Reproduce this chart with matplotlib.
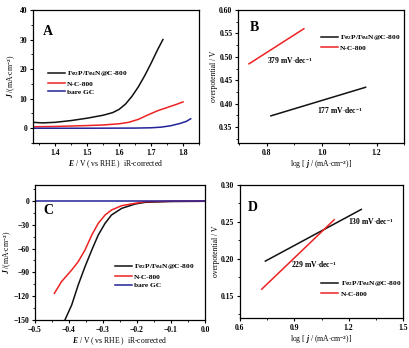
import matplotlib
matplotlib.use("Agg")
import matplotlib.pyplot as plt
from matplotlib.ticker import AutoMinorLocator, FormatStrFormatter

plt.rcParams['font.family'] = ['Liberation Serif', 'DejaVu Serif']
plt.rcParams['font.weight'] = 'bold'
plt.rcParams['mathtext.fontset'] = 'custom'
plt.rcParams['mathtext.rm'] = 'Liberation Serif:bold'
plt.rcParams['mathtext.it'] = 'Liberation Serif:italic:bold'
plt.rcParams['mathtext.bf'] = 'Liberation Serif:bold'

labels = ['Fe$_2$P/Fe$_4$N@C-800', 'N-C-800', 'bare GC']
colors = ['#111111', '#ee2222', '#222299']

# Panel A (OER polarization)
a_black_E = [1.33, 1.36, 1.40, 1.45, 1.50, 1.55, 1.58, 1.60, 1.62, 1.64, 1.66, 1.68, 1.70, 1.72, 1.737]
a_black_J = [2.0, 1.8, 2.0, 2.6, 3.4, 4.4, 5.3, 6.4, 8.2, 10.8, 14.0, 17.8, 22.0, 26.5, 30.0]
a_red_E = [1.33, 1.40, 1.50, 1.55, 1.60, 1.63, 1.66, 1.69, 1.72, 1.75, 1.78, 1.80]
a_red_J = [0.5, 0.6, 0.9, 1.1, 1.5, 2.0, 3.0, 4.5, 5.9, 7.0, 8.1, 8.9]
a_blue_E = [1.33, 1.50, 1.65, 1.70, 1.73, 1.76, 1.79, 1.81, 1.824]
a_blue_J = [0.0, 0.0, 0.05, 0.15, 0.35, 0.8, 1.6, 2.3, 3.2]

# Panel B (Tafel OER)
b_black_x = [0.815, 1.16]
b_black_y = [0.374, 0.435]
b_red_x = [0.735, 0.935]
b_red_y = [0.485, 0.560]

# Panel C (HER polarization)
c_black_E = [0.0, -0.10, -0.176, -0.206, -0.245, -0.275, -0.294, -0.314, -0.333, -0.353, -0.373, -0.392, -0.412]
c_black_J = [-0.5, -0.8, -1.8, -4.0, -9.4, -17.8, -28.3, -43.0, -61.9, -82.9, -106.0, -131.0, -150.0]
c_red_E = [0.0, -0.10, -0.176, -0.206, -0.245, -0.275, -0.294, -0.314, -0.333, -0.353, -0.373, -0.392, -0.422, -0.443]
c_red_J = [-0.3, -0.5, -1.0, -3.1, -6.0, -11.5, -17.8, -28.3, -43.0, -61.9, -76.6, -87.0, -101.7, -116.4]
c_blue_E = [-0.5, 0.0]
c_blue_J = [0.0, 0.0]

# Panel D (Tafel HER)
d_black_x = [0.74, 1.27]
d_black_y = [0.197, 0.267]
d_red_x = [0.72, 1.12]
d_red_y = [0.159, 0.253]

W, H = 410, 348
fig = plt.figure(figsize=(W/100, H/100), dpi=100)

def ax_px(l, r, t, b):
    return fig.add_axes([l/W, 1-b/H, (r-l)/W, (b-t)/H])

fs = 5.5
lfs = 5.3
def style(ax):
    ax.tick_params(which='major', direction='out', length=2.5, width=0.8, labelsize=fs, pad=1.5)
    ax.tick_params(which='minor', direction='out', length=1.5, width=0.6)
    ax.xaxis.set_minor_locator(AutoMinorLocator(2))
    ax.yaxis.set_minor_locator(AutoMinorLocator(2))
    for s in ax.spines.values():
        s.set_linewidth(0.9)

def leg(ax, x, y):
    ax.legend(loc='upper left', bbox_to_anchor=(x, y), frameon=False, fontsize=lfs,
              handlelength=2.3, handletextpad=0.3, labelspacing=0.3,
              borderaxespad=0, borderpad=0)

ylab_J = r'$\mathit{J}$ /(mA$\cdot$cm$^{-2}$)'
xlab_E = r'$\mathit{E}$ / V ( vs RHE )  iR-corrected'
xlab_log = r'log [ $\mathit{j}$ / (mA$\cdot$cm$^{-2}$)]'

# A
axA = ax_px(33, 199, 10, 143)
axA.plot(a_black_E, a_black_J, color=colors[0], lw=1.1, label=labels[0])
axA.plot(a_red_E, a_red_J, color=colors[1], lw=1.1, label=labels[1])
axA.plot(a_blue_E, a_blue_J, color=colors[2], lw=1.1, label=labels[2])
axA.set_xlim(1.33, 1.85)
axA.set_ylim(-5, 40)
axA.set_xticks([1.4, 1.5, 1.6, 1.7, 1.8])
axA.set_yticks([0, 10, 20, 30, 40])
style(axA)
axA.set_xlabel(xlab_E, fontsize=fs, labelpad=1)
axA.set_ylabel(ylab_J, fontsize=fs, labelpad=1)
axA.text(0.06, 0.84, 'A', transform=axA.transAxes, fontsize=10, fontweight='bold', va='center')
leg(axA, 0.09, 0.555)

# B
axB = ax_px(238, 404, 10, 143)
axB.plot(b_black_x, b_black_y, color=colors[0], lw=1.1, label=labels[0])
axB.plot(b_red_x, b_red_y, color=colors[1], lw=1.1, label=labels[1])
axB.set_xlim(0.695, 1.3)
axB.set_ylim(0.316, 0.60)
axB.set_xticks([0.8, 1.0, 1.2])
axB.set_yticks([0.35, 0.40, 0.45, 0.50, 0.55, 0.60])
axB.yaxis.set_major_formatter(FormatStrFormatter('%.2f'))
style(axB)
axB.set_xlabel(xlab_log, fontsize=fs, labelpad=1)
axB.set_ylabel('overpotential / V', fontsize=fs, labelpad=1)
axB.text(0.07, 0.865, 'B', transform=axB.transAxes, fontsize=10, fontweight='bold', va='center')
axB.text(0.80, 0.493, r'379 mV$\cdot$dec$^{-1}$', fontsize=fs, va='center')
axB.text(0.983, 0.386, r'177 mV$\cdot$dec$^{-1}$', fontsize=fs, va='center')
leg(axB, 0.50, 0.825)

# C
axC = ax_px(35, 205, 185, 320)
axC.plot(c_black_E, c_black_J, color=colors[0], lw=1.1, label=labels[0])
axC.plot(c_red_E, c_red_J, color=colors[1], lw=1.1, label=labels[1])
axC.plot(c_blue_E, c_blue_J, color=colors[2], lw=1.1, label=labels[2])
axC.set_xlim(-0.5, 0.0)
axC.set_ylim(-150, 20)
axC.set_xticks([-0.5, -0.4, -0.3, -0.2, -0.1, 0.0])
axC.set_yticks([-150, -120, -90, -60, -30, 0])
style(axC)
axC.set_xlabel(xlab_E, fontsize=fs, labelpad=1)
axC.set_ylabel(ylab_J, fontsize=fs, labelpad=0)
axC.text(0.05, 0.81, 'C', transform=axC.transAxes, fontsize=10, fontweight='bold', va='center')
leg(axC, 0.47, 0.426)

# D
axD = ax_px(240, 403, 185, 318)
axD.plot(d_black_x, d_black_y, color=colors[0], lw=1.1, label=labels[0])
axD.plot(d_red_x, d_red_y, color=colors[1], lw=1.1, label=labels[1])
axD.set_xlim(0.6, 1.5)
axD.set_ylim(0.12, 0.30)
axD.set_xticks([0.6, 0.9, 1.2, 1.5])
axD.set_yticks([0.15, 0.20, 0.25, 0.30])
axD.yaxis.set_major_formatter(FormatStrFormatter('%.2f'))
style(axD)
axD.set_xlabel(xlab_log, fontsize=fs, labelpad=1)
axD.set_ylabel('overpotential / V', fontsize=fs, labelpad=1)
axD.text(0.05, 0.83, 'D', transform=axD.transAxes, fontsize=10, fontweight='bold', va='center')
axD.text(1.195, 0.25, r'130 mV$\cdot$dec$^{-1}$', fontsize=fs, va='center')
axD.text(0.882, 0.192, r'229 mV$\cdot$dec$^{-1}$', fontsize=fs, va='center')
leg(axD, 0.50, 0.29)

fig.savefig('out.png', dpi=100)
